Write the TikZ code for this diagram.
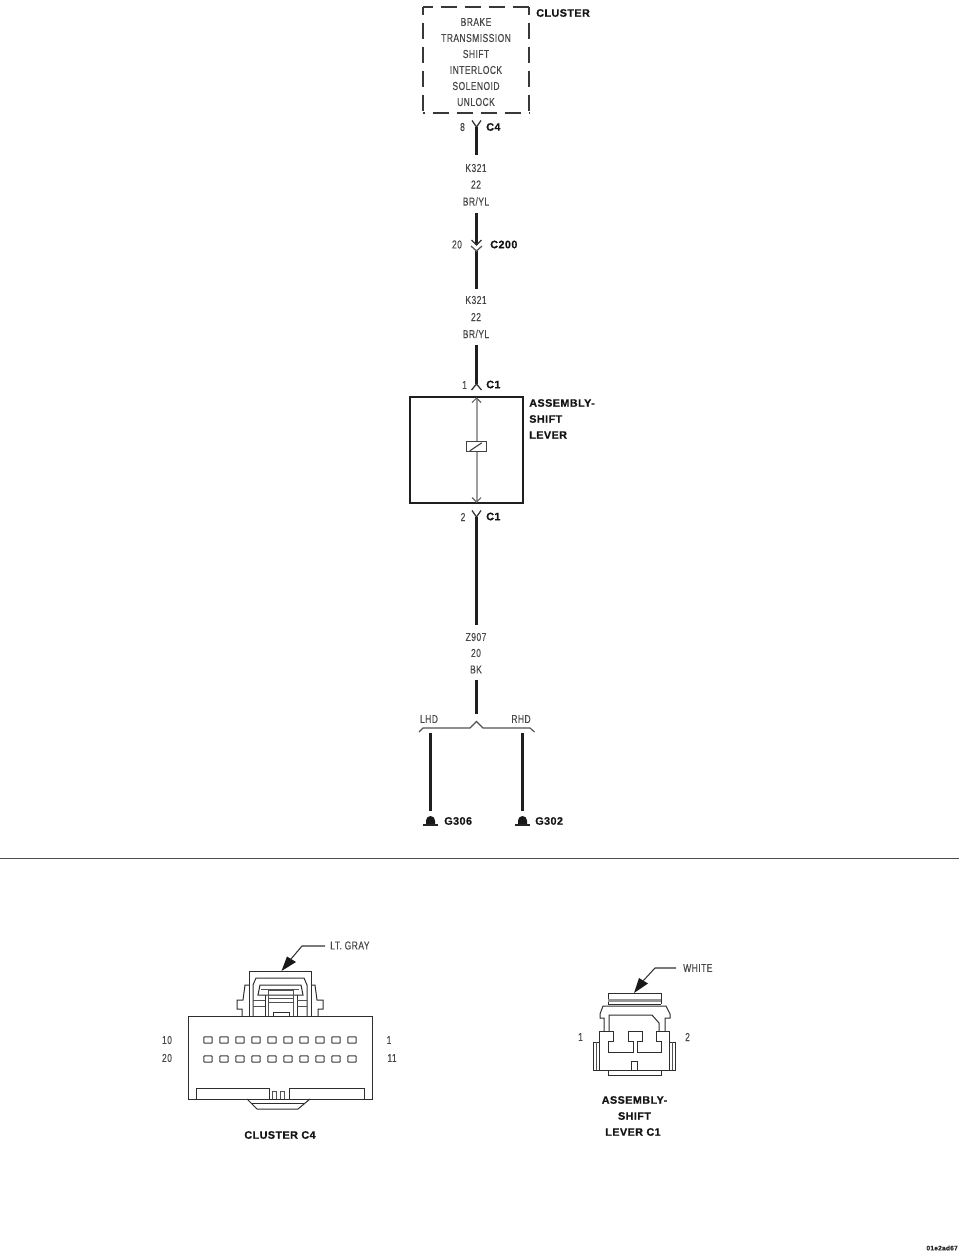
\documentclass[tikz,border=0pt]{standalone}
\usepackage{fontspec}
\setmainfont{Liberation Sans}
\newfontfamily\thinf[FakeStretch=0.74,LetterSpace=4,FakeBold=0.25]{Liberation Sans}
\newfontfamily\boldf[LetterSpace=4,FakeBold=0.6]{Liberation Sans Bold}
\tikzset{
  x=0.75pt,y=-0.75pt,
  thintext/.style={font=\thinf\fontsize{8.6pt}{10pt}\selectfont,text=black!72,inner sep=0pt,anchor=center},
  boldtext/.style={font=\boldf\fontsize{8.1pt}{10pt}\selectfont,text=black!92,inner sep=0pt,anchor=west},
  boldcenter/.style={boldtext,anchor=center},
  wire/.style={line width=2.1pt,black!88},
  pinline/.style={line width=0.95pt,black!80},
  conn/.style={line width=0.75pt,black!82},
  connthin/.style={line width=0.6pt,black!68},
  pin/.style={draw=black!78,line width=0.75pt,minimum width=6.2pt,minimum height=4.6pt,inner sep=0pt,rounded corners=0.4pt},
  clusterdash/.style={line width=1.4pt,black!78,dash pattern=on 12pt off 6pt}
}
\begin{document}
\begin{tikzpicture}
\useasboundingbox (0,0) rectangle (960,1257);

% ---- cluster
\node[minimum width=79.5pt,minimum height=79.5pt,inner sep=0pt] (cluster) at (476,60) {};
\draw[clusterdash,dash phase=4.5pt] (cluster.north west) -- (cluster.north east);
\draw[clusterdash,dash phase=6pt] (cluster.north west) -- (cluster.south west);
\draw[clusterdash,dash phase=6pt] (cluster.north east) -- (cluster.south east);
\draw[clusterdash,dash phase=10.5pt] (cluster.south west) -- (cluster.south east);
\foreach \t/\y/\n in {BRAKE/22/a,TRANSMISSION/38/b,SHIFT/54/c,INTERLOCK/70/d,SOLENOID/86/e,UNLOCK/102/f}
  \node[thintext] (cl\n) at (476,\y) {\t};
\node[boldtext] (clusterlabel) at (536,13) {CLUSTER};

% C4 pin
\coordinate (c4j) at (476.5,127);
\coordinate (c4l) at (472,120.5);
\coordinate (c4r) at (481,120.5);
\coordinate (w1end) at (476.5,155);
\draw[pinline] (c4l) -- (c4j) -- (c4r);
\draw[wire] (c4j) -- (w1end);
\node[thintext] (p8) at (462.5,127) {8};
\node[boldtext] (c4lab) at (486,127) {C4};
\node[thintext] (k1a) at (476,168) {K321};
\node[thintext] (k1b) at (476,184.5) {22};
\node[thintext] (k1c) at (476,201.5) {BR/YL};

% C200
\coordinate (w2a) at (476.5,213);
\coordinate (w2b) at (476.5,245);
\coordinate (w3a) at (476.5,251);
\coordinate (w3b) at (476.5,289);
\draw[wire] (w2a) -- (w2b);
\draw[wire] (w3a) -- (w3b);
\draw[pinline] (471.5,240) -- (w2b) -- (481.5,240);
\draw[pinline,black!65] (471,246) -- (w3a) -- (482,246);
\node[thintext] (p20) at (457,244.5) {20};
\node[boldtext] (c200) at (490,244.5) {C200};
\node[thintext] (k2a) at (476,300) {K321};
\node[thintext] (k2b) at (476,317) {22};
\node[thintext] (k2c) at (476,334) {BR/YL};

% C1 top
\coordinate (w4a) at (476.5,345);
\coordinate (w4b) at (476.5,384);
\coordinate (c1l) at (471.5,390);
\coordinate (c1r) at (481.5,390);
\draw[wire] (w4a) -- (w4b);
\draw[pinline] (c1l) -- (w4b) -- (c1r);
\node[thintext] (p1) at (464.5,385) {1};
\node[boldtext] (c1a) at (486,384.5) {C1};

% assembly
\node[draw=black!88,line width=1.4pt,minimum width=84.5pt,minimum height=79.5pt,inner sep=0pt] (asm) at (466.5,450) {};
\node[boldtext] (asma) at (529,403) {ASSEMBLY-};
\node[boldtext] (asmb) at (529,419) {SHIFT};
\node[boldtext] (asmc) at (529,435) {LEVER};
\coordinate (st) at (476.5,398);
\coordinate (sb) at (476.5,502);
\node[draw=black!75,fill=white,line width=0.9pt,minimum width=15pt,minimum height=7pt,inner sep=0pt] (sol) at (476.5,446.5) {};
\draw[line width=1.5pt,black!38] (st) -- (sol.north);
\draw[line width=1.5pt,black!38] (sol.south) -- (sb);
\draw[line width=0.8pt,black!60] (472,402.5) -- (st) -- (481,402.5);
\draw[line width=0.8pt,black!60] (472,497.5) -- (sb) -- (481,497.5);
\draw[line width=0.8pt,black!75] (sol.south west) ++(4,-1) -- ++(12,-8);

% C1 bottom
\coordinate (c1bj) at (476.5,517);
\coordinate (c1bl) at (472,510.5);
\coordinate (c1br) at (481,510.5);
\coordinate (w5b) at (476.5,625);
\draw[pinline] (c1bl) -- (c1bj) -- (c1br);
\draw[wire] (c1bj) -- (w5b);
\node[thintext] (p2) at (463,517) {2};
\node[boldtext] (c1b) at (486,516.5) {C1};
\node[thintext] (za) at (476,637) {Z907};
\node[thintext] (zb) at (476,653) {20};
\node[thintext] (zc) at (476,669.5) {BK};
\coordinate (w6a) at (476.5,680);
\coordinate (w6b) at (476.5,714);
\draw[wire] (w6a) -- (w6b);

% brace
\node[thintext] (lhd) at (429,719) {LHD};
\node[thintext] (rhd) at (521,719) {RHD};
\draw[line width=0.85pt,black!68] (419,732) -- (423,728) -- (470,728) -- (476.5,721.5) -- (483,728) -- (530,728) -- (534.5,732);

% grounds
\coordinate (gl) at (430.5,733);
\coordinate (gr) at (522.5,733);
\node[inner sep=0pt,minimum size=0pt] (gnda) at (430.5,811) {};
\node[inner sep=0pt,minimum size=0pt] (gndb) at (522.5,811) {};
\draw[wire] (gl) -- (gnda);
\draw[line width=1.8pt,black!88] (gr) -- (gndb);
\foreach \g in {gnda,gndb}{
  \fill[black!90] (\g.center) ++(-4.5,13) -- ++(0,-3.5) arc[start angle=180,end angle=360,radius=4.5] -- ++(0,3.5) -- cycle;
  \draw[line width=0.9pt,black!85] (\g.center) ++(-7.5,14) -- ++(15,0);
}
\node[boldtext] (g306) at (444,821) {G306};
\node[boldtext] (g302) at (535,821) {G302};

% separator
\coordinate (sepa) at (0,858.5);
\coordinate (sepb) at (959,858.5);
\draw[line width=0.8pt,black!70] (sepa) -- (sepb);

% ---- cluster C4 connector
\draw[conn] (188,1016) rectangle (372,1099);
\foreach \i in {0,...,9}{
  \node[pin] (pa\i) at (208+16*\i,1040) {};
  \node[pin] (pb\i) at (208+16*\i,1059) {};
}
\node[thintext] (n10) at (167,1040) {10};
\node[thintext] (n20) at (167,1058) {20};
\node[thintext] (n1) at (389,1040) {1};
\node[thintext] (n11) at (392,1058) {11};
\draw[conn] (196,1099) -- (196,1088) -- (269,1088) -- (269,1099);
\draw[connthin] (272,1099) -- (272,1091) -- (276,1091) -- (276,1099);
\draw[connthin] (280,1099) -- (280,1091) -- (284,1091) -- (284,1099);
\draw[conn] (289,1099) -- (289,1088) -- (364,1088) -- (364,1099);
\draw[conn] (247,1099) -- (257,1109) -- (298,1109) -- (310,1099);
\draw[conn] (252,1103) -- (305,1103);
% latch
\draw[conn] (249,1016) -- (249,971) -- (311,971) -- (311,1016);
\draw[conn] (253,1016) -- (253,985) -- (256,978) -- (304,978) -- (307,985) -- (307,1016);
\draw[conn] (258,995) -- (260,985) -- (301,985) -- (303,995) -- cycle;
\draw[connthin] (261,989) -- (299,989);
\draw[conn] (265,1016) -- (265,995);
\draw[conn] (297,1016) -- (297,995);
\draw[connthin] (268,1016) -- (268,990) -- (293,990) -- (293,1016);
\draw[connthin] (268,998) -- (293,998);
\draw[connthin] (268,1002) -- (293,1002);
\draw[conn] (273,1016) -- (273,1012) -- (289,1012) -- (289,1016);
\draw[connthin] (253,1000) -- (265,1000);
\draw[connthin] (253,1006) -- (265,1006);
\draw[connthin] (297,1000) -- (307,1000);
\draw[connthin] (297,1006) -- (307,1006);
\draw[conn] (249,985) -- (245,985) -- (243,1000) -- (237,1000) -- (237,1009) -- (242,1009) -- (242,1016);
\draw[conn] (311,985) -- (315,985) -- (317,1000) -- (323,1000) -- (323,1009) -- (318,1009) -- (318,1016);
\coordinate (lgtip) at (281.5,971);
\coordinate (lgbend) at (302,946);
\coordinate (lgend) at (325,946);
\fill[black!90] (lgtip) -- (287,956.5) -- (296,962) -- cycle;
\draw[line width=0.8pt,black!80] (291,959) -- (lgbend) -- (lgend);
\node[thintext,anchor=west] (ltgray) at (330,945.5) {LT. GRAY};
\node[boldcenter] (c4title) at (280,1135) {CLUSTER C4};

% ---- assembly C1 connector
\draw[conn] (608,1004) -- (608,993) -- (661,993) -- (661,1004);
\draw[line width=2pt,black!42] (608,1000.5) -- (661,1000.5);
\draw[conn] (608,1004) -- (661,1004);
\draw[conn] (604,1031) -- (604,1018) -- (600,1018) -- (600,1014) -- (603,1006) -- (666,1006) -- (670,1014) -- (670,1018) -- (665,1018) -- (665,1031);
\draw[conn] (609,1031) -- (609,1015) -- (652,1015) -- (659,1023) -- (659,1031);
\draw[conn] (599,1070) -- (599,1031) -- (613,1031) -- (613,1041) -- (608,1041) -- (608,1052) -- (633,1052) -- (633,1041) -- (628,1041) -- (628,1031) -- (642,1031) -- (642,1041) -- (637,1041) -- (637,1052) -- (661,1052) -- (661,1041) -- (656,1041) -- (656,1031) -- (669,1031) -- (669,1070) -- cycle;
\draw[conn] (599,1042) -- (593,1042) -- (593,1070) -- (599,1070);
\draw[connthin] (596,1042) -- (596,1070);
\draw[conn] (669,1042) -- (675,1042) -- (675,1070) -- (669,1070);
\draw[connthin] (672,1042) -- (672,1070);
\draw[conn] (608,1070) -- (608,1075) -- (661,1075) -- (661,1070);
\draw[conn] (631,1070) -- (631,1061) -- (637,1061) -- (637,1070);
\coordinate (whtip) at (634,993);
\coordinate (whbend) at (655,968);
\coordinate (whend) at (676,968);
\fill[black!90] (whtip) -- (639,978) -- (648,983.5) -- cycle;
\draw[line width=0.8pt,black!80] (643,981) -- (whbend) -- (whend);
\node[thintext,anchor=west] (white) at (683,968) {WHITE};
\node[thintext] (m1) at (580.5,1037) {1};
\node[thintext] (m2) at (687.5,1037) {2};
\node[boldcenter] (t1) at (634.5,1100) {ASSEMBLY-};
\node[boldcenter] (t2) at (634.5,1116) {SHIFT};
\node[boldcenter] (t3) at (633,1132) {LEVER C1};

% reference code
\node[font=\boldf\fontsize{4.9pt}{6pt}\selectfont,text=black!85,inner sep=0pt,anchor=east] (ref) at (958,1248) {01e2ad67};
\end{tikzpicture}
\end{document}
